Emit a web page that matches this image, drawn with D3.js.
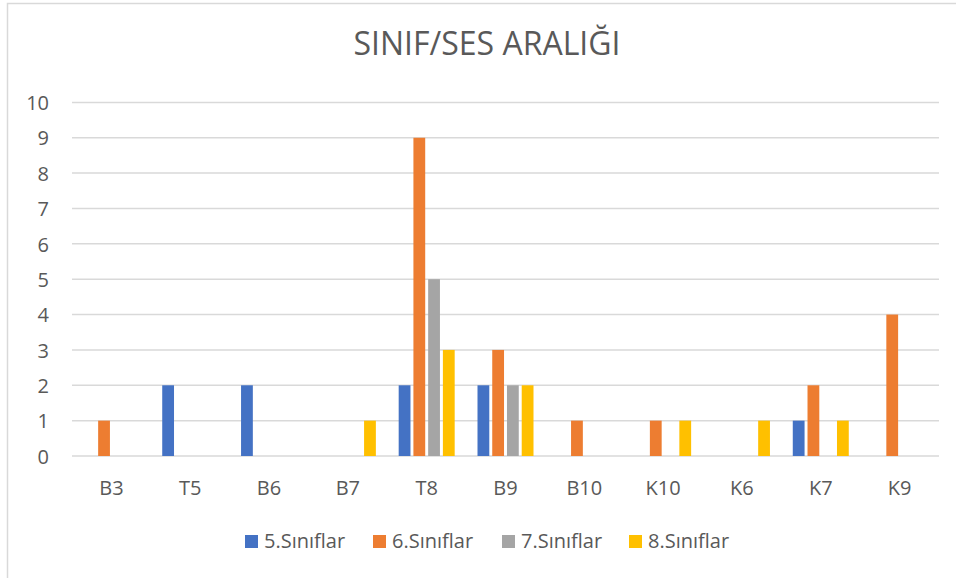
<!DOCTYPE html>
<html><head><meta charset="utf-8">
<script src="https://cdn.jsdelivr.net/npm/d3@7"></script>
<style>body{margin:0;background:#fff;} svg{display:block;}</style>
</head><body>
<svg id="c" width="956" height="578"></svg>
<script>
const categories = ["B3","T5","B6","B7","T8","B9","B10","K10","K6","K7","K9"];
const seriesNames = ["5.Sınıflar","6.Sınıflar","7.Sınıflar","8.Sınıflar"];
const s5 = [0,2,2,0,2,2,0,0,0,1,0];
const s6 = [1,0,0,0,9,3,1,1,0,2,4];
const s7 = [0,0,0,0,5,2,0,0,0,0,0];
const s8 = [0,0,0,1,3,2,0,1,1,1,0];
const yTicks = [0,1,2,3,4,5,6,7,8,9,10];
const colors = ["#4472C4","#ED7D31","#A5A5A5","#FFC000"];
const seriesValues = [s5,s6,s7,s8];

const svg = d3.select("#c");
const font = "'Open Sans', sans-serif";
// chart border
svg.append("rect").attr("x",7.5).attr("y",3.5).attr("width",960).attr("height",600)
  .attr("fill","none").attr("stroke","#d9d9d9").attr("stroke-width",1.5);

const x = d3.scaleBand().domain(categories).range([72,939]);
const y = d3.scaleLinear().domain([0,10]).range([456,102.4]);
const xs = d3.scaleBand().domain(d3.range(4)).range([-28,28]).paddingInner(0.2);

// grid
svg.append("g").selectAll("line").data(yTicks).join("line")
  .attr("x1",72).attr("x2",939).attr("y1",d=>y(d)).attr("y2",d=>y(d))
  .attr("stroke","#d9d9d9").attr("stroke-width",1.5);

// y axis labels
const yAxis = d3.axisLeft(y).tickValues(yTicks).tickSize(0).tickPadding(0);
const gy = svg.append("g").attr("transform","translate(49,0)").call(yAxis);
gy.select(".domain").remove();
gy.selectAll("text").attr("font-family",font).attr("font-size",20).attr("fill","#595959").attr("dy","0.36em");

// x axis labels
const xAxis = d3.axisBottom(x).tickSize(0).tickPadding(0);
const gx = svg.append("g").attr("transform","translate(0,495)").call(xAxis);
gx.select(".domain").remove();
gx.selectAll("text").attr("font-family",font).attr("font-size",20).attr("fill","#595959").attr("dy","0");

// bars
seriesValues.forEach((vals,si)=>{
  svg.append("g").selectAll("rect").data(vals.map((v,i)=>({c:categories[i],v})).filter(d=>d.v>0)).join("rect")
    .attr("x",d=>x(d.c)+x.bandwidth()/2+xs(si))
    .attr("width",xs.bandwidth())
    .attr("y",d=>y(d.v)).attr("height",d=>y(0)-y(d.v))
    .attr("fill",colors[si]);
});

// title
svg.append("text").attr("x",487).attr("y",55).attr("text-anchor","middle")
  .attr("font-family",font).attr("font-size",32).attr("fill","#595959").text("SINIF/SES ARALIĞI");

// legend
const legX = [245,373,502,629];
seriesNames.forEach((n,i)=>{
  svg.append("rect").attr("x",legX[i]).attr("y",535).attr("width",13).attr("height",13).attr("fill",colors[i]);
  svg.append("text").attr("x",legX[i]+19).attr("y",548).attr("font-family",font).attr("font-size",20)
    .attr("fill","#595959").text(n);
});
</script>
</body></html>
